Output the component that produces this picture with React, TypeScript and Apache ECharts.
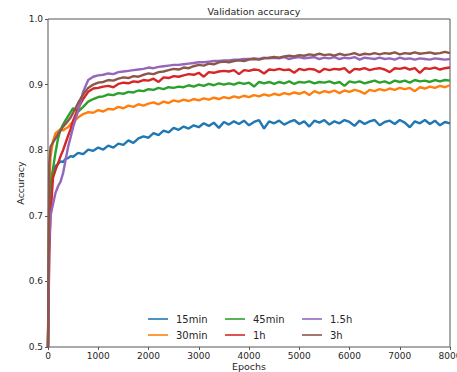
import React, { useEffect, useRef } from "react";
import * as echarts from "echarts";

const epochs = [
  0, 25, 50, 100, 150, 200, 250, 300, 350, 400, 450, 500,
  600, 700, 800, 900, 1000, 1100, 1200, 1300, 1400, 1500,
  1600, 1700, 1800, 1900, 2000, 2100, 2200, 2300, 2400, 2500,
  2600, 2700, 2800, 2900, 3000, 3100, 3200, 3300, 3400, 3500,
  3600, 3700, 3800, 3900, 4000, 4100, 4200, 4300, 4400, 4500,
  4600, 4700, 4800, 4900, 5000, 5100, 5200, 5300, 5400, 5500,
  5600, 5700, 5800, 5900, 6000, 6100, 6200, 6300, 6400, 6500,
  6600, 6700, 6800, 6900, 7000, 7100, 7200, 7300, 7400, 7500,
  7600, 7700, 7800, 7900, 8000,
];

const acc15min = [
  0.5, 0.72, 0.75, 0.768, 0.776, 0.779, 0.783, 0.782, 0.787, 0.788, 0.791, 0.79,
  0.796, 0.794, 0.801, 0.799, 0.804, 0.801, 0.807, 0.804, 0.81, 0.808,
  0.815, 0.811, 0.818, 0.821, 0.819, 0.826, 0.823, 0.83, 0.827, 0.834,
  0.831, 0.836, 0.833, 0.838, 0.835, 0.841, 0.837, 0.842, 0.834, 0.843,
  0.839, 0.844, 0.84, 0.845, 0.838, 0.843, 0.846, 0.833, 0.844, 0.841,
  0.845, 0.839, 0.843, 0.846, 0.84, 0.844, 0.836, 0.845, 0.842, 0.846,
  0.839, 0.844, 0.841, 0.846, 0.843, 0.837, 0.845, 0.84, 0.844, 0.846,
  0.838, 0.843, 0.845, 0.84, 0.846, 0.842, 0.835, 0.844, 0.841, 0.846,
  0.84, 0.845, 0.838, 0.843, 0.841,
];

const acc30min = [
  0.5, 0.74, 0.79, 0.814, 0.826, 0.829, 0.832, 0.83, 0.833, 0.835, 0.84, 0.843,
  0.85, 0.855, 0.858, 0.857, 0.861, 0.859, 0.863, 0.862, 0.866, 0.864,
  0.868, 0.866, 0.87, 0.868, 0.871, 0.873, 0.87, 0.874, 0.872, 0.876,
  0.874, 0.877, 0.875, 0.878, 0.876, 0.879, 0.877, 0.88, 0.878, 0.881,
  0.879, 0.882, 0.88, 0.883, 0.881, 0.884, 0.882, 0.885, 0.883, 0.886,
  0.884, 0.887, 0.885, 0.888, 0.886, 0.889, 0.884, 0.89, 0.887, 0.89,
  0.888, 0.891, 0.887, 0.891, 0.889, 0.892, 0.89, 0.886, 0.892, 0.89,
  0.893, 0.891, 0.894, 0.892, 0.895, 0.893, 0.895, 0.89, 0.896, 0.894,
  0.897, 0.895, 0.898, 0.896, 0.899,
];

const acc45min = [
  0.5, 0.7, 0.74, 0.772, 0.797, 0.818, 0.831, 0.839, 0.846, 0.852, 0.858, 0.864,
  0.859, 0.866, 0.874, 0.878, 0.881, 0.882, 0.885, 0.884, 0.887, 0.886,
  0.889, 0.888, 0.891, 0.89, 0.893, 0.892, 0.895, 0.893, 0.896, 0.895,
  0.897, 0.896, 0.899, 0.897, 0.9, 0.898, 0.901, 0.899, 0.902, 0.9,
  0.902, 0.9, 0.903, 0.901, 0.903, 0.897, 0.904, 0.902, 0.904, 0.901,
  0.904, 0.902, 0.905, 0.901, 0.904, 0.903, 0.905, 0.902, 0.904, 0.903,
  0.905, 0.902, 0.904, 0.898, 0.905, 0.903, 0.905, 0.902, 0.904, 0.906,
  0.903, 0.905, 0.902, 0.906, 0.904, 0.906, 0.903, 0.907, 0.905, 0.906,
  0.904, 0.907, 0.905, 0.907, 0.906,
];

const acc1h = [
  0.5, 0.64, 0.7, 0.758, 0.77, 0.78, 0.791, 0.8, 0.811, 0.822, 0.832, 0.845,
  0.864, 0.878, 0.889, 0.894, 0.895, 0.897, 0.898, 0.896, 0.901, 0.903,
  0.902, 0.905, 0.904, 0.907, 0.906, 0.909, 0.904, 0.911, 0.91, 0.913,
  0.912, 0.914, 0.916, 0.915, 0.918, 0.912, 0.919, 0.918, 0.92, 0.921,
  0.92, 0.922, 0.916, 0.922, 0.921, 0.923, 0.922, 0.917, 0.923, 0.922,
  0.924, 0.922, 0.923, 0.918, 0.924, 0.922, 0.924, 0.923, 0.919, 0.924,
  0.922, 0.924, 0.923, 0.925, 0.918, 0.924, 0.923, 0.925, 0.922, 0.924,
  0.925, 0.923, 0.919, 0.925, 0.924, 0.926, 0.923, 0.925, 0.918, 0.925,
  0.924, 0.926, 0.923, 0.925, 0.926,
];

const acc1_5h = [
  0.5, 0.66, 0.7, 0.718, 0.735, 0.745, 0.752, 0.765, 0.785, 0.805, 0.82, 0.835,
  0.86, 0.889, 0.907, 0.912, 0.914, 0.915, 0.917, 0.916, 0.919, 0.92,
  0.921, 0.922, 0.923, 0.924, 0.926, 0.925, 0.927, 0.928, 0.929, 0.93,
  0.93, 0.931, 0.932, 0.933, 0.934, 0.934, 0.935, 0.936, 0.936, 0.937,
  0.937, 0.938, 0.938, 0.939, 0.939, 0.94, 0.939, 0.941, 0.94, 0.941,
  0.94, 0.942, 0.939, 0.941, 0.942, 0.94, 0.941, 0.942, 0.939, 0.941,
  0.94, 0.942, 0.939, 0.941, 0.94, 0.942, 0.938, 0.941, 0.94, 0.939,
  0.941, 0.939, 0.94, 0.938, 0.941, 0.939, 0.94, 0.938, 0.94, 0.939,
  0.938, 0.94, 0.939, 0.938, 0.939,
];

const acc3h = [
  0.5, 0.78, 0.805, 0.812, 0.818, 0.825, 0.83, 0.836, 0.84, 0.845, 0.85, 0.857,
  0.872, 0.885, 0.895, 0.9, 0.903, 0.904, 0.907, 0.906, 0.909, 0.911,
  0.91, 0.913, 0.912, 0.915, 0.917, 0.916, 0.919, 0.92, 0.922, 0.924,
  0.923, 0.926, 0.925, 0.928, 0.93, 0.929, 0.932, 0.931, 0.934, 0.935,
  0.934, 0.936, 0.937, 0.936, 0.938, 0.939, 0.938, 0.94, 0.941, 0.942,
  0.941, 0.943, 0.944, 0.943, 0.945, 0.944, 0.946, 0.945, 0.947, 0.945,
  0.946, 0.944, 0.947, 0.945, 0.946, 0.948, 0.945, 0.947, 0.946, 0.948,
  0.946, 0.948, 0.947, 0.949, 0.946, 0.948, 0.947, 0.949, 0.947, 0.948,
  0.949, 0.947, 0.948, 0.95, 0.948,
];

const seriesNames = ["15min", "30min", "45min", "1h", "1.5h", "3h"];
const seriesValues = [acc15min, acc30min, acc45min, acc1h, acc1_5h, acc3h];
const seriesColors = ["#1f77b4", "#ff7f0e", "#2ca02c", "#d62728", "#9467bd", "#8c564b"];
const legendColumns = [
  ["15min", "30min"],
  ["45min", "1h"],
  ["1.5h", "3h"],
];

const FONT = "DejaVu Sans";
const TEXT = "#262626";

export default function App() {
  const ref = useRef<HTMLDivElement>(null);
  useEffect(() => {
    if (!ref.current) return;
    const chart = echarts.init(ref.current, undefined, { renderer: "svg" });
    const legendLefts = [143, 220, 297];
    chart.setOption({
      animation: false,
      backgroundColor: "#ffffff",
      title: {
        text: "Validation accuracy",
        left: 249,
        top: 1,
        textAlign: "center",
        textStyle: { fontFamily: FONT, fontSize: 9.5, fontWeight: "normal", color: TEXT },
      },
      legend: legendColumns.map((col, i) => ({
        data: col,
        orient: "vertical",
        left: legendLefts[i],
        top: 308,
        icon: "rect",
        itemWidth: 20,
        itemHeight: 1.6,
        itemGap: 4,
        textStyle: {
          fontFamily: FONT,
          fontSize: 10,
          color: TEXT,
          lineHeight: 12,
          padding: [0, 0, 0, 3],
        },
      })),
      grid: {
        left: 48,
        right: 7,
        top: 19,
        bottom: 25,
        show: true,
        borderColor: "#555",
        borderWidth: 1,
        outerBoundsMode: "none",
        containLabel: false,
      },
      xAxis: {
        type: "value",
        min: 0,
        max: 8000,
        interval: 1000,
        name: "Epochs",
        nameLocation: "middle",
        nameGap: 14,
        nameMoveOverlap: false,
        nameTextStyle: { fontFamily: FONT, fontSize: 9.5, color: TEXT },
        axisLine: { show: false },
        axisTick: { show: true, length: 3, lineStyle: { color: "#555" } },
        axisLabel: {
          fontFamily: FONT,
          fontSize: 9,
          color: TEXT,
          margin: 4,
          showMaxLabel: true,
          hideOverlap: false,
          formatter: (v: number) => String(v),
        },
        splitLine: { show: false },
      },
      yAxis: {
        type: "value",
        min: 0.5,
        max: 1.0,
        interval: 0.1,
        name: "Accuracy",
        nameLocation: "middle",
        nameGap: 23,
        nameMoveOverlap: false,
        nameTextStyle: { fontFamily: FONT, fontSize: 9.5, color: TEXT },
        axisLine: { show: false },
        axisTick: { show: true, length: 3, lineStyle: { color: "#555" } },
        axisLabel: {
          fontFamily: FONT,
          fontSize: 9,
          color: TEXT,
          margin: 5,
          formatter: (v: number) => v.toFixed(1),
        },
        splitLine: { show: false },
      },
      series: seriesNames.map((name, i) => ({
        name,
        type: "line",
        showSymbol: false,
        symbol: "none",
        color: seriesColors[i],
        lineStyle: { width: 2.4, color: seriesColors[i] },
        data: epochs.map((e, j) => [e, seriesValues[i][j]]),
        z: 2 + i,
      })),
    });
    return () => chart.dispose();
  }, []);
  return (
    <div
      ref={ref}
      style={{ position: "fixed", left: 0, top: 0, width: 457, height: 372 }}
    />
  );
}
